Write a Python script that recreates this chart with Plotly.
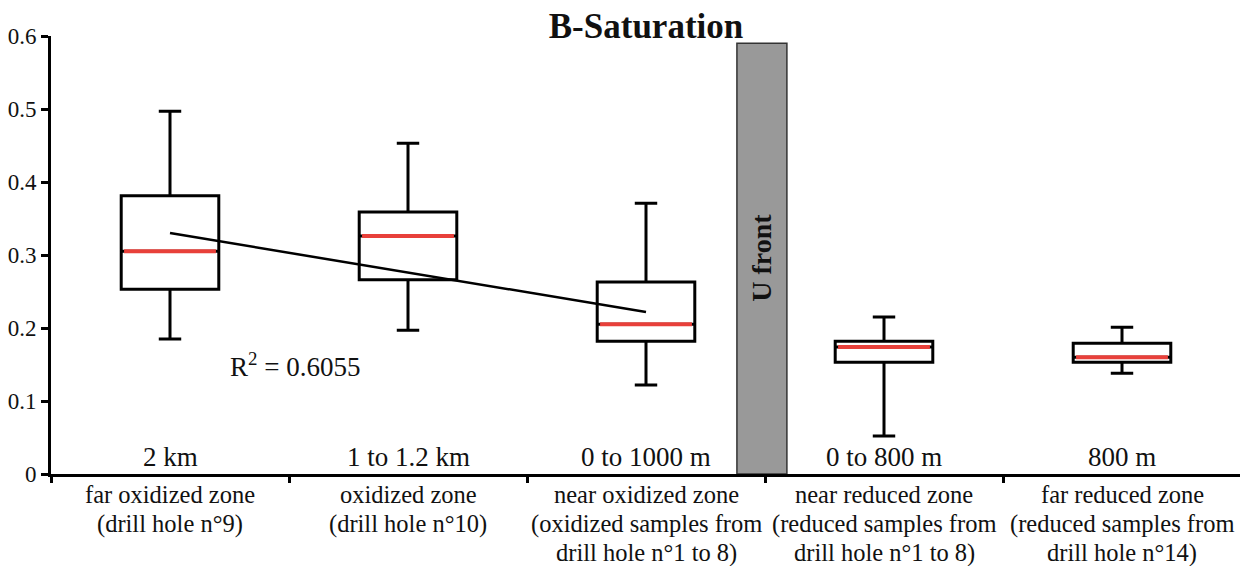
import plotly.graph_objects as go

# ---- data ----
categories = [
    ["far oxidized zone", "(drill hole n°9)"],
    ["oxidized zone", "(drill hole n°10)"],
    ["near oxidized zone", "(oxidized samples from", "drill hole n°1 to 8)"],
    ["near reduced zone", "(reduced samples from", "drill hole n°1 to 8)"],
    ["far reduced zone", "(reduced samples from", "drill hole n°14)"],
]
distances = ["2 km", "1 to 1.2 km", "0 to 1000 m", "0 to 800 m", "800 m"]
positions = [0, 1, 2, 3, 4]
upper_whisker = [0.497, 0.453, 0.371, 0.215, 0.201]
q3_vals = [0.381, 0.359, 0.263, 0.182, 0.179]
median_vals = [0.305, 0.326, 0.205, 0.174, 0.160]
q1_vals = [0.253, 0.266, 0.182, 0.153, 0.153]
lower_whisker = [0.185, 0.197, 0.122, 0.052, 0.138]

trend_x = [0, 2]
trend_y = [0.330, 0.222]
r2_text = "R<sup>2</sup> = 0.6055"

front_x = [2.487]
front_top = [0.590]
front_label = "U front"

y_ticks = [0, 0.1, 0.2, 0.3, 0.4, 0.5, 0.6]
y_tick_text = ["0", "0.1", "0.2", "0.3", "0.4", "0.5", "0.6"]

FONT = "Liberation Serif"
BOX_W = 0.41

fig = go.Figure()

# U front bar
fig.add_trace(go.Bar(
    x=front_x, y=front_top, width=0.21,
    marker=dict(color="#999999", line=dict(color="#333333", width=1.5)),
    hoverinfo="skip", showlegend=False,
))

# boxes
fig.add_trace(go.Box(
    x=positions, q1=q1_vals, median=median_vals, q3=q3_vals,
    lowerfence=lower_whisker, upperfence=upper_whisker,
    width=BOX_W, whiskerwidth=0.23, boxpoints=False,
    line=dict(color="black", width=3), fillcolor="white",
    hoverinfo="skip", showlegend=False,
))

# red medians
mx, my = [], []
half = BOX_W / 2 - 0.012
for p, m in zip(positions, median_vals):
    mx += [p - half, p + half, None]
    my += [m, m, None]
fig.add_trace(go.Scatter(
    x=mx, y=my, mode="lines", line=dict(color="#e8403a", width=4),
    hoverinfo="skip", showlegend=False,
))

# regression line
fig.add_trace(go.Scatter(
    x=trend_x, y=trend_y, mode="lines", line=dict(color="black", width=2.5),
    hoverinfo="skip", showlegend=False,
))

annotations = []
for p, d in zip(positions, distances):
    annotations.append(dict(
        x=p, y=0, xref="x", yref="y", text=d, showarrow=False,
        yanchor="bottom", yshift=0, font=dict(family=FONT, size=27, color="#111"),
    ))
LINE_GAP = 29.5
for p, lines in zip(positions, categories):
    for i, ln in enumerate(lines):
        annotations.append(dict(
            x=p, y=0, xref="x", yref="paper", text=ln, showarrow=False,
            yanchor="middle", yshift=-20 - LINE_GAP * i,
            font=dict(family=FONT, size=24.5, color="#111"),
        ))
annotations.append(dict(
    x=0.525, y=0.149, xref="x", yref="y", text=r2_text, showarrow=False,
    font=dict(family=FONT, size=27, color="#111"),
))
annotations.append(dict(
    x=front_x[0], y=0.296, xref="x", yref="y", text="<b>" + front_label + "</b>",
    textangle=-90, showarrow=False, font=dict(family=FONT, size=28, color="#111"),
))

fig.update_layout(
    width=1248, height=566,
    margin=dict(l=43, r=15, t=28, b=100),
    paper_bgcolor="white", plot_bgcolor="white",
    title=dict(text="<b>B-Saturation</b>", x=638 / 1248, xanchor="center",
               y=1 - 18 / 566, yanchor="middle",
               font=dict(family=FONT, size=35, color="#111")),
    xaxis=dict(range=[-0.5, 4.5], showgrid=False, zeroline=False, automargin=False,
               showline=True, linewidth=3, linecolor="black",
               tickvals=[-0.5, 0.5, 1.5, 2.5, 3.5, 4.5], showticklabels=False,
               ticks="outside", ticklen=6, tickwidth=3, tickcolor="black"),
    yaxis=dict(range=[0, 0.6], showgrid=False, zeroline=False, automargin=False,
               showline=True, linewidth=3, linecolor="black",
               tickvals=y_ticks, ticktext=y_tick_text,
               ticks="outside", ticklen=7, tickwidth=3, tickcolor="black",
               tickfont=dict(family=FONT, size=23, color="#111")),
    annotations=annotations,
    hovermode=False, showlegend=False,
    boxmode="overlay", barmode="overlay",
)

fig.write_html("out.html")
